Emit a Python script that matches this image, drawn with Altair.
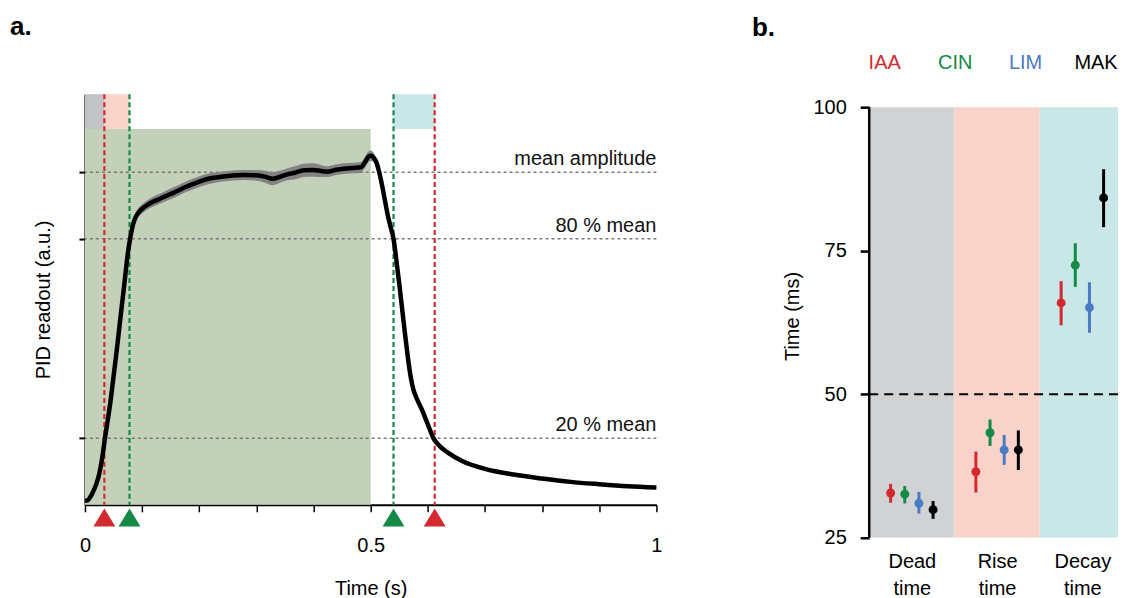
import altair as alt
import pandas as pd

FONT = "Liberation Sans"
RED = "#d42a2f"
GREEN = "#138a45"
BLUE = "#4a7bc4"
BLACK = "#000000"

# ---------------- panel a: PID trace ----------------
t = [0.000, 0.005, 0.010, 0.015, 0.020, 0.025, 0.030, 0.035, 0.040, 0.045,
     0.050, 0.055, 0.060, 0.065, 0.070, 0.075, 0.079, 0.083, 0.087, 0.092,
     0.100, 0.110, 0.120, 0.133, 0.150, 0.162, 0.175, 0.191, 0.205, 0.220,
     0.235, 0.250, 0.278, 0.300, 0.315, 0.328, 0.340, 0.354, 0.370, 0.383,
     0.400, 0.413, 0.424, 0.440, 0.453, 0.470, 0.483, 0.490, 0.495, 0.500,
     0.505, 0.510, 0.515, 0.520, 0.525, 0.530, 0.535, 0.540, 0.545, 0.550,
     0.555, 0.560, 0.565, 0.570, 0.575, 0.580, 0.590, 0.600, 0.610, 0.620,
     0.635, 0.660, 0.700, 0.750, 0.800, 0.850, 0.900, 0.950, 1.000]
pid = [0.012, 0.014, 0.025, 0.042, 0.063, 0.093, 0.138, 0.200, 0.255, 0.315,
       0.385, 0.455, 0.530, 0.605, 0.680, 0.755, 0.800, 0.835, 0.858, 0.875,
       0.890, 0.903, 0.912, 0.922, 0.935, 0.944, 0.955, 0.966, 0.975, 0.982,
       0.986, 0.989, 0.992, 0.991, 0.987, 0.981, 0.986, 0.994, 1.000, 1.006,
       1.007, 1.004, 1.002, 1.008, 1.011, 1.013, 1.015, 1.030, 1.045, 1.050,
       1.045, 1.030, 1.000, 0.960, 0.915, 0.870, 0.835, 0.800, 0.735, 0.665,
       0.590, 0.515, 0.445, 0.385, 0.345, 0.322, 0.285, 0.242, 0.200, 0.178,
       0.157, 0.132, 0.108, 0.091, 0.079, 0.069, 0.062, 0.056, 0.052]
sem = [0, 0, 0, 0, 0, 0, 0, 0, 0, 0,
       0, 0, 0, 0, 0, 0, 0.008, 0.012, 0.014, 0.014,
       0.014, 0.014, 0.015, 0.015, 0.016, 0.016, 0.016, 0.016, 0.016, 0.016,
       0.015, 0.015, 0.015, 0.016, 0.018, 0.020, 0.018, 0.018, 0.020, 0.020,
       0.020, 0.018, 0.016, 0.016, 0.016, 0.016, 0.016, 0.016, 0.016, 0.016,
       0.014, 0.010, 0, 0, 0, 0, 0, 0, 0, 0,
       0, 0, 0, 0, 0, 0, 0, 0, 0, 0,
       0, 0, 0, 0, 0, 0, 0, 0, 0]

a_ymin, a_ymax = 0.0, 1.235
levels = [1.0, 0.8, 0.2]
level_labels = ["mean amplitude", "80 % mean", "20 % mean"]

marker_t = [0.034, 0.078, 0.540, 0.612]
marker_kind = ["20 %", "80 %", "80 %", "20 %"]

epoch_name = ["stimulus", "dead", "rise", "decay"]
epoch_start = [0.0, 0.0, 0.034, 0.540]
epoch_end = [0.5, 0.034, 0.078, 0.612]
epoch_lo = [a_ymin, 1.13, 1.13, 1.13]
epoch_hi = [1.13, a_ymax, a_ymax, a_ymax]
epoch_colors = ["#c3d1b9", "#c2c3c7", "#f8d4cb", "#c8e7e6"]

x_ticks = [0, 0.1, 0.2, 0.3, 0.4, 0.5, 0.6, 0.7, 0.8, 0.9, 1]

# ---------------- panel b: timing summary ----------------
measures = ["Dead time", "Rise time", "Decay time"]
measure_colors = ["#d1d2d4", "#f9d3ca", "#c8e7e6"]
odors = ["IAA", "CIN", "LIM", "MAK"]
odor_colors = [RED, GREEN, BLUE, BLACK]
mean_dead = [32.8, 32.6, 31.0, 29.9]
lo_dead = [31.1, 31.0, 29.2, 28.3]
hi_dead = [34.4, 34.0, 33.0, 31.4]
mean_rise = [36.5, 43.3, 40.3, 40.3]
lo_rise = [32.9, 41.0, 37.7, 36.8]
hi_rise = [40.0, 45.6, 42.9, 43.7]
mean_decay = [65.9, 72.5, 65.1, 84.2]
lo_decay = [62.0, 68.7, 60.7, 79.1]
hi_decay = [69.7, 76.3, 69.5, 89.2]
b_ymin, b_ymax = 25, 100
b_view_top = 102.26          # a little headroom above the 100 ms tick
b_view_right = 2.918         # the last category is cut by the figure edge
b_ticks = [25, 50, 75, 100]
threshold = [50]
dodge_step = 0.166           # spacing of the four odours inside one category

# ---------------- tables ----------------
curve = pd.DataFrame({"t": t, "pid": pid, "sem": sem})
curve["lo"] = curve["pid"] - curve["sem"]
curve["hi"] = curve["pid"] + curve["sem"]
band = curve[curve["sem"] > 0]
lev = pd.DataFrame({"level": levels, "label": level_labels})
marks = pd.DataFrame({"t": marker_t, "kind": marker_kind})
epochs = pd.DataFrame({"name": epoch_name, "start": epoch_start, "end": epoch_end,
                       "lo": epoch_lo, "hi": epoch_hi})

rows = []
for mi, (m, means, los, his) in enumerate([("Dead time", mean_dead, lo_dead, hi_dead),
                                           ("Rise time", mean_rise, lo_rise, hi_rise),
                                           ("Decay time", mean_decay, lo_decay, hi_decay)]):
    for oi, (o, v, l, h) in enumerate(zip(odors, means, los, his)):
        rows.append({"measure": m, "odor": o, "mean": v, "lo": l, "hi": h,
                     "pos": mi + 0.5 + (oi - 1.5) * dodge_step})
summary = pd.DataFrame(rows)
bands_b = pd.DataFrame({"measure": measures,
                        "start": list(range(len(measures))),
                        "end": [i + 1 for i in range(len(measures))],
                        "top": [b_ymax] * 3, "bottom": [b_ymin] * 3})
thr = pd.DataFrame({"ms": threshold})
yaxis_line = pd.DataFrame({"x": [0], "lo": [b_ymin], "hi": [b_ymax]})

# ---------------- panel a chart ----------------
ax_x = alt.Axis(values=x_ticks, title="Time (s)", grid=False, tickSize=7, tickWidth=1.5,
                domainWidth=2, labelPadding=24, titlePadding=23, labelFlush=False,
                labelExpr="abs(datum.value) < 1e-6 ? '0' : abs(datum.value - 0.5) < 1e-6 ? '0.5' : abs(datum.value - 1) < 1e-6 ? '1' : ''")
ax_y = alt.Axis(values=levels, labels=False, title="PID readout (a.u.)", grid=False,
                tickSize=6, tickWidth=2, domainWidth=2, titlePadding=24)
sx = alt.Scale(domain=[0, 1], nice=False, zero=False)
sy = alt.Scale(domain=[a_ymin, a_ymax], nice=False, zero=False)


def XA(field):
    return alt.X(field, type="quantitative", scale=sx, axis=ax_x)


def YA(field):
    return alt.Y(field, type="quantitative", scale=sy, axis=ax_y)


kind_color = alt.Color("kind:N", scale=alt.Scale(domain=["20 %", "80 %"], range=[RED, GREEN]), legend=None)

epoch_layer = alt.Chart(epochs).mark_rect().encode(
    x=XA("start"), x2="end", y=YA("lo"), y2="hi",
    fill=alt.Fill("name:N", scale=alt.Scale(domain=epoch_name, range=epoch_colors), legend=None),
)
vlines = alt.Chart(marks).mark_rule(strokeDash=[5, 3], strokeWidth=2.2).encode(
    x=XA("t"), color=kind_color,
)
hlines = alt.Chart(lev).mark_rule(strokeDash=[3, 3], strokeWidth=1.5, color="#7a7a7a").encode(
    y=YA("level")
)
sem_layer = alt.Chart(band).mark_area(color="#838387", interpolate="monotone").encode(
    x=XA("t"), y=YA("lo"), y2="hi"
)
line_layer = alt.Chart(curve).mark_line(color="black", strokeWidth=4.5, interpolate="monotone").encode(
    x=XA("t"), y=YA("pid")
)
level_text = alt.Chart(lev).mark_text(align="right", baseline="alphabetic", dy=-7,
                                      fontSize=20, font=FONT, color="#111111").encode(
    x=alt.X(datum=1.0, scale=sx, axis=ax_x), y=YA("level"), text="label:N"
)
triangles = alt.Chart(marks).mark_point(shape="M0,0.2L0.61,1.2L-0.61,1.2Z", size=1296, filled=True,
                                        opacity=1, strokeWidth=0).encode(
    x=XA("t"), y=alt.Y(datum=a_ymin, scale=sy, axis=ax_y), color=kind_color,
)

left = alt.layer(epoch_layer, hlines, vlines, sem_layer, line_layer, level_text, triangles).properties(
    width=572, height=411,
    title=alt.TitleParams("a.", anchor="start", fontSize=26, fontWeight="bold", font=FONT,
                          dx=-24, offset=53, color="black"),
)

# ---------------- panel b chart ----------------
label_array = "[" + ", ".join("'%s'" % m for m in measures) + "]"
sxb = alt.Scale(domain=[0, b_view_right], nice=False, zero=False)
ax_xb = alt.Axis(title=None, values=[i + 0.5 for i in range(len(measures))],
                 labelExpr="split(%s[floor(datum.value)], ' ')" % label_array,
                 labelAngle=0, ticks=False, domain=False, grid=False, labelFlush=False,
                 labelPadding=14, labelLineHeight=27, labelBaseline="top")
syb = alt.Scale(domain=[b_ymin, b_view_top], nice=False, zero=False)
ax_yb = alt.Axis(values=b_ticks, title="Time (ms)", grid=False, tickSize=9, tickWidth=2.5,
                 domain=False, labelPadding=14, titlePadding=10)


def XB(field):
    return alt.X(field, type="quantitative", scale=sxb, axis=ax_xb)


def YB(field):
    return alt.Y(field, type="quantitative", scale=syb, axis=ax_yb)


ocolor = alt.Color("odor:N", scale=alt.Scale(domain=odors, range=odor_colors), legend=None)

bg_b = alt.Chart(bands_b).mark_rect(clip=True).encode(
    x=XB("start"), x2="end", y=YB("top"), y2="bottom",
    fill=alt.Fill("measure:N", scale=alt.Scale(domain=measures, range=measure_colors), legend=None),
)
axis_line = alt.Chart(yaxis_line).mark_rule(strokeWidth=2.5, color="black").encode(
    x=XB("x"), y=YB("lo"), y2="hi"
)
thr_layer = alt.Chart(thr).mark_rule(strokeDash=[9, 6], strokeWidth=2, color="black").encode(
    y=YB("ms")
)
err = alt.Chart(summary).mark_rule(strokeWidth=3).encode(
    x=XB("pos"), y=YB("lo"), y2="hi", color=ocolor
)
pts = alt.Chart(summary).mark_circle(size=80, opacity=1).encode(
    x=XB("pos"), y=YB("mean"), color=ocolor
)
legend_expr = ("datum.value == 'IAA' ? '%s' : datum.value == 'CIN' ? '%s' : "
               "datum.value == 'LIM' ? '%s' : '%s'") % (RED, GREEN, BLUE, BLACK)
legend_layer = alt.Chart(pd.DataFrame({"odor": odors})).mark_point(opacity=0).encode(
    x=alt.X("odor:N",
            scale=alt.Scale(type="point", domain=odors, padding=0.266, align=0.4),
            axis=alt.Axis(orient="top", title=None, domain=False, ticks=False, labelAngle=0,
                          labelPadding=22, labelFontSize=20,
                          labelColor={"expr": legend_expr})),
)

right = alt.layer(alt.layer(bg_b, thr_layer, err, pts, axis_line), legend_layer).resolve_scale(
    x="independent"
).properties(
    width=249, height=444,
    title=alt.TitleParams("b.", anchor="start", fontSize=26, fontWeight="bold", font=FONT,
                          dx=-31, offset=11, color="black"),
)

chart = alt.hconcat(left, right, spacing=86).resolve_scale(
    color="independent", fill="independent"
).properties(
    padding={"left": 2, "top": 5, "right": 0, "bottom": 0}
).configure(font=FONT).configure_view(stroke=None).configure_axis(
    labelFont=FONT, titleFont=FONT, labelFontSize=20, titleFontSize=20,
    labelColor="black", titleColor="black", titleFontWeight="normal",
    domainColor="black", tickColor="black",
)

chart.save("out.html", embed_options={"renderer": "svg", "actions": False})
